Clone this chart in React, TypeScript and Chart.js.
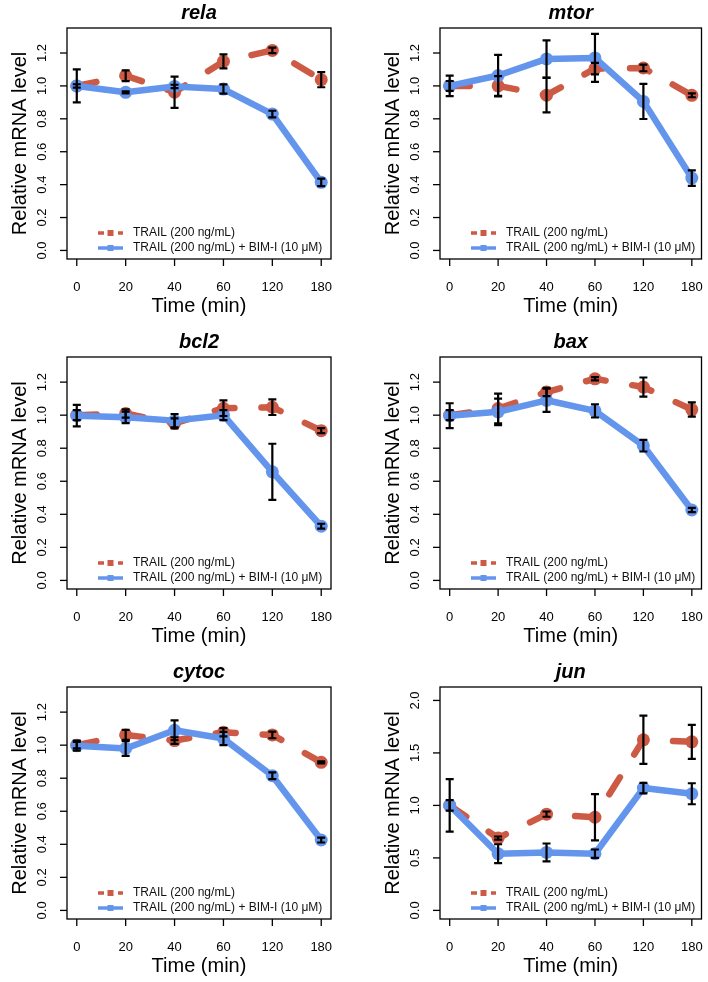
import React, { useEffect, useRef } from 'react';
import { Chart, registerables } from 'chart.js';

Chart.register(...registerables);

// ---------- data ----------
const timeLabels = ['0', '20', '40', '60', '120', '180'];
const legendTrail = 'TRAIL (200 ng/mL)';
const legendBim = 'TRAIL (200 ng/mL) + BIM-I (10 μM)';
const xTitle = 'Time (min)';
const yTitle = 'Relative mRNA level';

const yTicksStd = [0, 0.2, 0.4, 0.6, 0.8, 1.0, 1.2];
const yTickLabelsStd = ['0.0', '0.2', '0.4', '0.6', '0.8', '1.0', '1.2'];
const yTicksJun = [0, 0.5, 1.0, 1.5, 2.0];
const yTickLabelsJun = ['0.0', '0.5', '1.0', '1.5', '2.0'];

const relaTrail = [1.0, 1.062, 0.962, 1.149, 1.216, 1.038];
const relaTrailErr = [0.01, 0.033, 0.095, 0.043, 0.017, 0.046];
const relaBim = [1.0, 0.961, 0.997, 0.981, 0.829, 0.414];
const relaBimErr = [0.1, 0.006, 0.01, 0.028, 0.02, 0.023];

const mtorTrail = [1.0, 1.0, 0.944, 1.105, 1.109, 0.943];
const mtorTrailErr = [0.062, 0.06, 0.105, 0.035, 0.02, 0.012];
const mtorBim = [1.0, 1.063, 1.164, 1.17, 0.906, 0.44];
const mtorBimErr = [0.03, 0.126, 0.113, 0.146, 0.107, 0.047];

const bcl2Trail = [1.0, 1.01, 0.95, 1.042, 1.048, 0.906];
const bcl2TrailErr = [0.03, 0.025, 0.03, 0.047, 0.047, 0.015];
const bcl2Bim = [0.997, 0.987, 0.967, 1.0, 0.657, 0.328];
const bcl2BimErr = [0.065, 0.035, 0.04, 0.03, 0.17, 0.015];

const baxTrail = [1.0, 1.04, 1.14, 1.22, 1.17, 1.034];
const baxTrailErr = [0.03, 0.09, 0.025, 0.01, 0.058, 0.043];
const baxBim = [0.997, 1.02, 1.09, 1.026, 0.815, 0.426];
const baxBimErr = [0.075, 0.08, 0.07, 0.04, 0.035, 0.013];

const cytocTrail = [1.0, 1.062, 1.028, 1.078, 1.062, 0.896];
const cytocTrailErr = [0.02, 0.03, 0.02, 0.025, 0.02, 0.006];
const cytocBim = [0.997, 0.98, 1.09, 1.04, 0.815, 0.426];
const cytocBimErr = [0.03, 0.045, 0.06, 0.04, 0.02, 0.015];

const junTrail = [1.0, 0.689, 0.917, 0.887, 1.625, 1.606];
const junTrailErr = [0.05, 0.015, 0.025, 0.22, 0.23, 0.162];
const junBim = [1.0, 0.54, 0.552, 0.54, 1.165, 1.111];
const junBimErr = [0.25, 0.09, 0.085, 0.04, 0.05, 0.1];

// ---------- styling / layout ----------
const RED = '#CD5A44';
const BLUE = '#6495ED';
const FONT = '"Liberation Sans", Arial, Helvetica, sans-serif';

type PanelDef = {
  title: string;
  trail: number[]; trailErr: number[];
  bim: number[]; bimErr: number[];
  yMin: number; yMax: number; yTicks: number[]; yTickLabels: string[];
  col: number; row: number;
};

const panels: PanelDef[] = [
  { title: 'rela', trail: relaTrail, trailErr: relaTrailErr, bim: relaBim, bimErr: relaBimErr, yMin: -0.052, yMax: 1.352, yTicks: yTicksStd, yTickLabels: yTickLabelsStd, col: 0, row: 0 },
  { title: 'mtor', trail: mtorTrail, trailErr: mtorTrailErr, bim: mtorBim, bimErr: mtorBimErr, yMin: -0.052, yMax: 1.352, yTicks: yTicksStd, yTickLabels: yTickLabelsStd, col: 1, row: 0 },
  { title: 'bcl2', trail: bcl2Trail, trailErr: bcl2TrailErr, bim: bcl2Bim, bimErr: bcl2BimErr, yMin: -0.052, yMax: 1.352, yTicks: yTicksStd, yTickLabels: yTickLabelsStd, col: 0, row: 1 },
  { title: 'bax', trail: baxTrail, trailErr: baxTrailErr, bim: baxBim, bimErr: baxBimErr, yMin: -0.052, yMax: 1.352, yTicks: yTicksStd, yTickLabels: yTickLabelsStd, col: 1, row: 1 },
  { title: 'cytoc', trail: cytocTrail, trailErr: cytocTrailErr, bim: cytocBim, bimErr: cytocBimErr, yMin: -0.052, yMax: 1.352, yTicks: yTicksStd, yTickLabels: yTickLabelsStd, col: 0, row: 2 },
  { title: 'jun', trail: junTrail, trailErr: junTrailErr, bim: junBim, bimErr: junBimErr, yMin: -0.082, yMax: 2.128, yTicks: yTicksJun, yTickLabels: yTickLabelsJun, col: 1, row: 2 },
];

const colX = [0, 354];
const colW = [354, 354];
const colBoxL = [67, 86];
const colBoxR = [331, 350];
const rowY = [0, 320, 650];
const rowH = [320, 330, 332];
const rowBoxT = [28, 37, 37];
const rowBoxB = [259, 269, 269];

function decorPlugin(p: PanelDef) {
  return {
    id: 'decor',
    afterDatasetsDraw(chart: any) {
      const ctx = chart.ctx;
      const xs = chart.scales.x;
      const ys = chart.scales.y;
      ctx.save();
      ctx.strokeStyle = '#000';
      ctx.lineWidth = 2.2;
      ctx.lineCap = 'butt';
      const series: [number[], number[]][] = [[p.trail, p.trailErr], [p.bim, p.bimErr]];
      for (const [vals, errs] of series) {
        vals.forEach((v, i) => {
          const x = xs.getPixelForValue(i);
          const y1 = ys.getPixelForValue(v + errs[i]);
          const y2 = ys.getPixelForValue(v - errs[i]);
          ctx.beginPath();
          ctx.moveTo(x, y1); ctx.lineTo(x, y2);
          ctx.moveTo(x - 4, y1); ctx.lineTo(x + 4, y1);
          ctx.moveTo(x - 4, y2); ctx.lineTo(x + 4, y2);
          ctx.stroke();
        });
      }
      ctx.restore();
    },
    afterDraw(chart: any) {
      const ctx = chart.ctx;
      const xs = chart.scales.x;
      const ys = chart.scales.y;
      const a = chart.chartArea;
      ctx.save();
      // box
      ctx.strokeStyle = '#000';
      ctx.lineWidth = 1.3;
      ctx.strokeRect(a.left, a.top, a.right - a.left, a.bottom - a.top);
      // x ticks
      ctx.fillStyle = '#000';
      ctx.font = `13px ${FONT}`;
      ctx.textAlign = 'center';
      ctx.textBaseline = 'alphabetic';
      timeLabels.forEach((lab, i) => {
        const x = xs.getPixelForValue(i);
        ctx.beginPath();
        ctx.moveTo(x, a.bottom); ctx.lineTo(x, a.bottom + 7);
        ctx.stroke();
        ctx.fillText(lab, x, a.bottom + 32);
      });
      // y ticks
      p.yTicks.forEach((v, i) => {
        const y = ys.getPixelForValue(v);
        ctx.beginPath();
        ctx.moveTo(a.left - 7, y); ctx.lineTo(a.left, y);
        ctx.stroke();
        ctx.save();
        ctx.translate(a.left - 21, y);
        ctx.rotate(-Math.PI / 2);
        ctx.fillText(p.yTickLabels[i], 0, 0);
        ctx.restore();
      });
      // axis titles
      ctx.font = `20px ${FONT}`;
      ctx.fillText(xTitle, (a.left + a.right) / 2, a.bottom + 53);
      ctx.save();
      ctx.translate(a.left - 41, (a.top + a.bottom) / 2);
      ctx.rotate(-Math.PI / 2);
      ctx.fillText(yTitle, 0, 0);
      ctx.restore();
      // panel title
      ctx.font = `italic bold 20px ${FONT}`;
      ctx.fillText(p.title, (a.left + a.right) / 2, a.top - 9);
      // legend
      const lx0 = a.left + 31;
      const lx1 = a.left + 56;
      const lxm = (lx0 + lx1) / 2;
      const r1 = a.bottom - 26;
      const r2 = a.bottom - 11;
      ctx.lineWidth = 3.5;
      ctx.strokeStyle = RED;
      ctx.beginPath();
      ctx.moveTo(lx0, r1); ctx.lineTo(lx0 + 6, r1);
      ctx.moveTo(lx1 - 5, r1); ctx.lineTo(lx1, r1);
      ctx.stroke();
      ctx.fillStyle = RED;
      ctx.fillRect(lxm - 3, r1 - 3, 6, 6);
      ctx.strokeStyle = BLUE;
      ctx.beginPath();
      ctx.moveTo(lx0, r2); ctx.lineTo(lx1, r2);
      ctx.stroke();
      ctx.fillStyle = BLUE;
      ctx.fillRect(lxm - 3, r2 - 3, 6, 6);
      ctx.fillStyle = '#111';
      ctx.font = `12px ${FONT}`;
      ctx.textAlign = 'left';
      ctx.textBaseline = 'middle';
      ctx.fillText(legendTrail, a.left + 66, r1);
      ctx.fillText(legendBim, a.left + 66, r2);
      ctx.restore();
    },
  };
}

function Panel({ p }: { p: PanelDef }) {
  const ref = useRef<HTMLCanvasElement | null>(null);
  const W = colW[p.col];
  const H = rowH[p.row];
  const boxL = colBoxL[p.col];
  const boxR = colBoxR[p.col];
  const boxT = rowBoxT[p.row];
  const boxB = rowBoxB[p.row];

  useEffect(() => {
    if (!ref.current) return;
    const chart = new Chart(ref.current, {
      type: 'line',
      data: {
        datasets: [
          {
            label: legendBim,
            data: p.bim.map((v, i) => ({ x: i, y: v })),
            borderColor: BLUE,
            backgroundColor: BLUE,
            borderWidth: 6.5,
            borderJoinStyle: 'round',
            borderCapStyle: 'round',
            pointRadius: 6.5,
            pointBorderWidth: 0,
            pointBackgroundColor: BLUE,
            tension: 0,
          },
          {
            label: legendTrail,
            data: p.trail.map((v, i) => ({ x: i, y: v })),
            borderColor: RED,
            backgroundColor: RED,
            borderWidth: 6.5,
            borderDash: [20, 27],
            borderJoinStyle: 'round',
            borderCapStyle: 'round',
            pointRadius: 6.5,
            pointBorderWidth: 0,
            pointBackgroundColor: RED,
            tension: 0,
          },
        ],
      },
      options: {
        animation: false,
        responsive: false,
        devicePixelRatio: 1,
        layout: { padding: { left: 0, top: boxT, right: W - boxR, bottom: 0 } },
        plugins: { legend: { display: false }, title: { display: false }, tooltip: { enabled: false } },
        scales: {
          x: {
            type: 'linear',
            min: -0.2,
            max: 5.2,
            afterBuildTicks: (s: any) => { s.ticks = timeLabels.map((_, i) => ({ value: i })); },
            afterFit: (s: any) => { s.height = H - boxB; },
            ticks: { display: false },
            grid: { display: false },
            border: { display: false },
          },
          y: {
            type: 'linear',
            min: p.yMin,
            max: p.yMax,
            afterBuildTicks: (s: any) => { s.ticks = p.yTicks.map((v) => ({ value: v })); },
            afterFit: (s: any) => { s.width = boxL; },
            ticks: { display: false },
            grid: { display: false },
            border: { display: false },
          },
        },
      } as any,
      plugins: [decorPlugin(p)],
    });
    return () => chart.destroy();
  }, []);

  return (
    <div style={{ position: 'absolute', left: colX[p.col], top: rowY[p.row], width: W, height: H }}>
      <canvas ref={ref} width={W} height={H} style={{ width: W, height: H, display: 'block' }} />
    </div>
  );
}

export default function App() {
  return (
    <div style={{ position: 'absolute', left: 0, top: 0, width: 708, height: 982, background: '#fff' }}>
      {panels.map((p) => (
        <Panel key={p.title} p={p} />
      ))}
    </div>
  );
}
